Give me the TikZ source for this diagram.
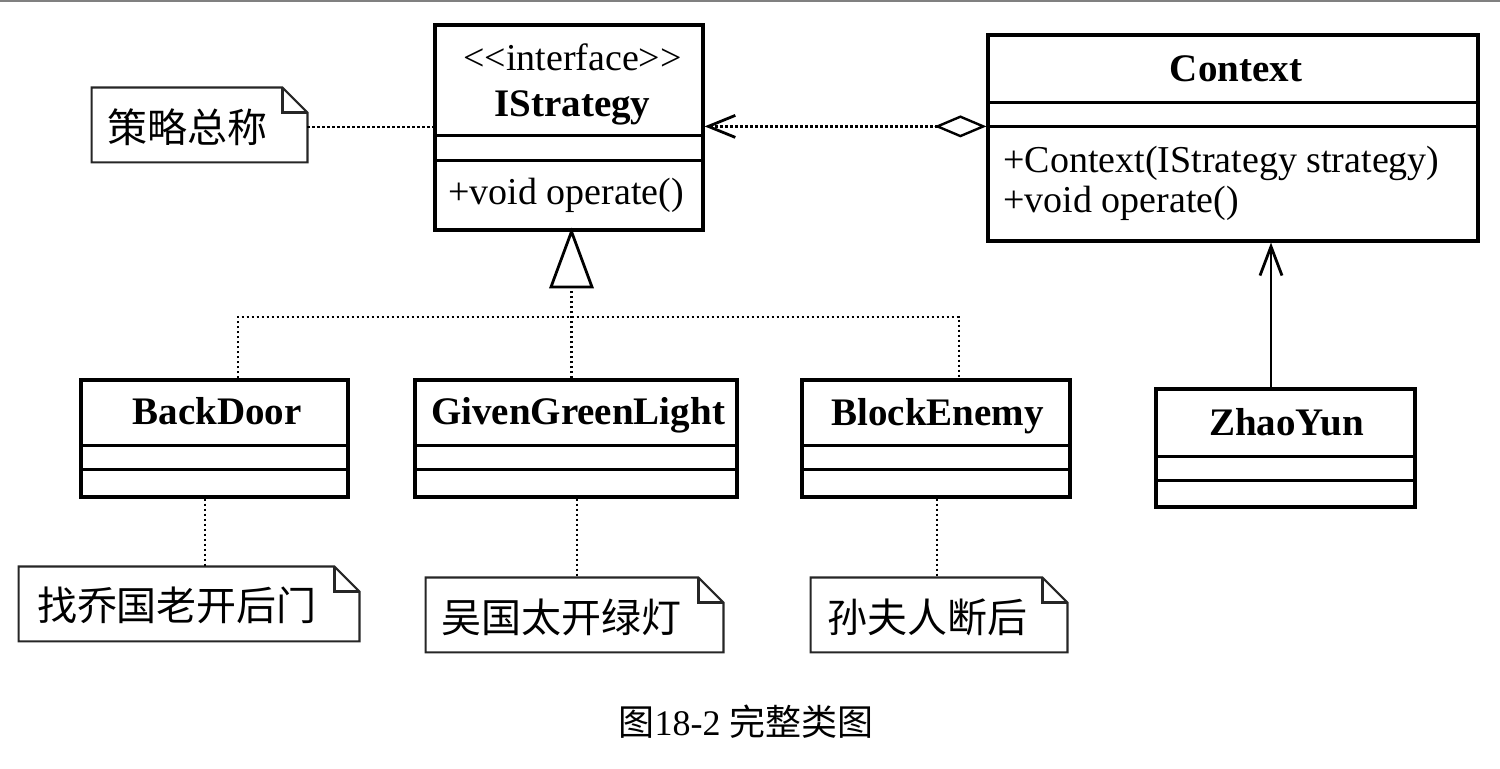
\documentclass[tikz,border=0pt]{standalone}
\usepackage{fontspec}
\setmainfont{Liberation Serif}
\newfontfamily\cjk{Noto Sans CJK SC}
\usetikzlibrary{arrows.meta,calc}
\newcommand\mynote[1]{%
  \draw[notedraw] (#1.north west) -- ($(#1.north east)+(-25,0)$) -- ($(#1.north east)+(0,25)$) -- (#1.south east) -- (#1.south west) -- cycle;
  \draw[notedraw] ($(#1.north east)+(-25,0)$) |- ($(#1.north east)+(0,25)$);}
\begin{document}
\begin{tikzpicture}[x=0.5pt,y=-0.5pt,
  classbox/.style={draw, line width=1.6pt, inner sep=0pt},
  notebox/.style={inner sep=0pt},
  notedraw/.style={line width=1.1pt, draw=black!85},
  lbl/.style={inner sep=0pt, font=\fontsize{19}{22}\selectfont},
  clsname/.style={inner sep=0pt, font=\fontsize{19.5}{22}\selectfont\bfseries},
  notetxt/.style={inner sep=0pt, font=\fontsize{20}{24}\selectfont\cjk},
  dotline/.style={line width=1.4pt, dash pattern=on 1.4pt off 1.1pt},
  seprule/.style={line width=1.4pt},
]
\useasboundingbox (0,0) rectangle (1500,769);
\draw[black!50, line width=1.2pt] (0,1.2) -- (1500,1.2);

% ---------- classes ----------
\node[classbox, minimum width=134pt, minimum height=102.5pt] (istr) at (569,127.5) {};
\draw[seprule] ($(istr.north west)+(0,112)$) -- ($(istr.north east)+(0,112)$);
\draw[seprule] ($(istr.north west)+(0,137)$) -- ($(istr.north east)+(0,137)$);
\node[lbl, anchor=base] (istrst) at (572.5,71) {{<}{<}interface{>}{>}};
\node[clsname, anchor=base] (istrnm) at (572.5,117) {IStrategy};
\node[lbl, anchor=base west] (istrop) at (448,205) {+void operate()};

\node[classbox, minimum width=245pt, minimum height=103pt] (ctx) at (1233,138) {};
\draw[seprule] ($(ctx.north west)+(0,69)$) -- ($(ctx.north east)+(0,69)$);
\draw[seprule] ($(ctx.north west)+(0,93)$) -- ($(ctx.north east)+(0,93)$);
\node[clsname, anchor=base] (ctxnm) at (1236,82) {Context};
\node[lbl, anchor=base west] (ctxop1) at (1003,173) {+Context(IStrategy strategy)};
\node[lbl, anchor=base west] (ctxop2) at (1003,213) {+void operate()};

\node[classbox, minimum width=133.5pt, minimum height=58.5pt] (back) at (214.5,438.5) {};
\node[classbox, minimum width=161pt, minimum height=58.5pt] (ggl) at (576,438.5) {};
\node[classbox, minimum width=134pt, minimum height=58.5pt] (block) at (936,438.5) {};
\foreach \b in {back,ggl,block}{
  \draw[seprule] ($(\b.north west)+(0,67)$) -- ($(\b.north east)+(0,67)$);
  \draw[seprule] ($(\b.north west)+(0,91)$) -- ($(\b.north east)+(0,91)$);
}
\node[clsname, anchor=base] (backnm) at (217,425) {BackDoor};
\node[clsname, anchor=base] (gglnm) at (578,425) {GivenGreenLight};
\node[clsname, anchor=base] (blocknm) at (937.5,426) {BlockEnemy};

\node[classbox, minimum width=129.5pt, minimum height=59pt] (zhao) at (1285.5,448) {};
\draw[seprule] ($(zhao.north west)+(0,69)$) -- ($(zhao.north east)+(0,69)$);
\draw[seprule] ($(zhao.north west)+(0,93)$) -- ($(zhao.north east)+(0,93)$);
\node[clsname, anchor=base] (zhaonm) at (1286.5,436) {ZhaoYun};

% ---------- notes ----------
\node[notebox, minimum width=107.5pt, minimum height=37pt] (n0) at (199.5,125) {};
\mynote{n0}
\node[notetxt] (n0t) at (187.5,127) {策略总称};
\node[notebox, minimum width=170pt, minimum height=37pt] (n1) at (189,604) {};
\mynote{n1}
\node[notetxt] (n1t) at (177,605) {找乔国老开后门};
\node[notebox, minimum width=148.5pt, minimum height=37pt] (n2) at (574.5,615) {};
\mynote{n2}
\node[notetxt] (n2t) at (561,617) {吴国太开绿灯};
\node[notebox, minimum width=128pt, minimum height=37pt] (n3) at (939,615) {};
\mynote{n3}
\node[notetxt] (n3t) at (927,617) {孙夫人断后};

% ---------- connectors ----------
\draw[dotline] (n0.east |- 0,127) -- (istr.west |- 0,127);

\coordinate (aggs) at ($(ctx.north west)+(0,93)$);
\draw[dotline, {Diamond[open, length=26pt, width=11pt, line width=1.2pt, fill=white]}-{Straight Barb[length=13.5pt, width=11pt, line width=1.4pt]}]
  (aggs) -- (aggs -| istr.east);

\coordinate (junc) at (571.5,317);
\coordinate (busL) at (238,317);
\coordinate (busR) at (959,317);
\draw[dotline] (busL |- back.north) -- (busL) -- (busR) -- (busR |- block.north);
\draw[dotline] (junc |- ggl.north) -- (junc) -- (junc |- 0,289);
\draw[line width=1.4pt] (junc |- 0,287) -- (551,287) -- (junc |- istr.south) -- (592,287) -- cycle;

\draw[dotline] ($(back.south)+(-9.5,0)$) -- ($(n1.north -| back.south)+(-9.5,0)$);
\draw[dotline] ($(ggl.south)+(1,0)$) -- ($(n2.north -| ggl.south)+(1,0)$);
\draw[dotline] ($(block.south)+(1,0)$) -- ($(n3.north -| block.south)+(1,0)$);

\draw[line width=1.1pt, -{Straight Barb[length=14.5pt, width=11pt, line width=1.4pt]}]
  ($(zhao.north)+(-14.5,0)$) -- ($(ctx.south)+(38,0)$);

% ---------- caption ----------
\node[inner sep=0pt, font=\fontsize{18}{22}\selectfont] (cap) at (746,722) {{\cjk 图}18-2 {\cjk 完整类图}};
\end{tikzpicture}
\end{document}
